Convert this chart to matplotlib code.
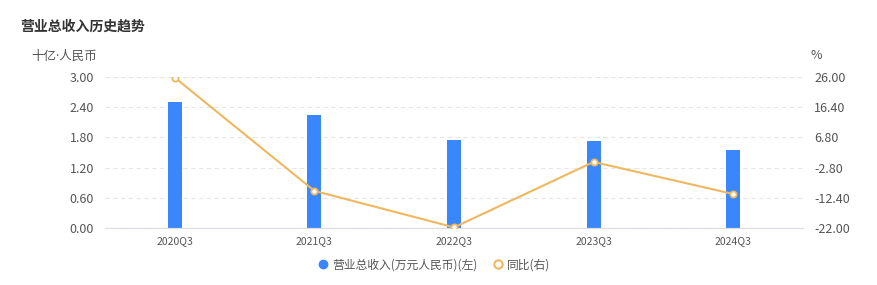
import matplotlib
matplotlib.use("Agg")
import matplotlib.pyplot as plt
from matplotlib.lines import Line2D

plt.rcParams['font.family'] = ['Noto Sans CJK SC', 'DejaVu Sans']

# data
quarters = ['2020Q3', '2021Q3', '2022Q3', '2023Q3', '2024Q3']
revenue = [2.50, 2.24, 1.75, 1.73, 1.55]      # 十亿人民币
yoy = [25.8, -10.2, -21.8, -1.0, -11.2]        # %
left_ticks = [0.00, 0.60, 1.20, 1.80, 2.40, 3.00]
right_ticks = [-22.00, -12.40, -2.80, 6.80, 16.40, 26.00]

bar_color = '#3a86fd'
line_color = '#efb75e'
text_color = '#555555'

fig = plt.figure(figsize=(8.78, 2.85), dpi=100)
ax = fig.add_axes([0.1196, 0.2, 0.795, 0.5298])
ax2 = ax.twinx()

x = list(range(len(quarters)))
ax.bar(x, revenue, width=0.1, color=bar_color, zorder=2)
ax.set_xlim(-0.5, len(quarters) - 0.5)
ax.set_ylim(left_ticks[0], left_ticks[-1])
ax.set_yticks(left_ticks)
ax.set_yticklabels([f'{v:.2f}' for v in left_ticks])
ax.set_xticks(x)
ax.set_xticklabels(quarters)
ax.grid(axis='y', linestyle=(0, (4, 3)), color='#e6e6e6', linewidth=0.8, zorder=0)

ax2.plot(x, yoy, color=line_color, linewidth=1.5, marker='o', markersize=4.5,
         markerfacecolor='white', markeredgecolor=line_color, markeredgewidth=1.3, zorder=3)
ax2.set_ylim(right_ticks[0], right_ticks[-1])
ax2.set_yticks(right_ticks)
ax2.set_yticklabels([f'{v:.2f}' for v in right_ticks])

for a in (ax, ax2):
    for side in ('top', 'left', 'right'):
        a.spines[side].set_visible(False)
    a.spines['bottom'].set_color('#dcdde6')
    a.tick_params(length=0, colors=text_color, labelsize=9)
ax.tick_params(axis='x', labelsize=7.5, pad=6)
ax.tick_params(axis='y', pad=8)
ax2.tick_params(axis='y', pad=8)

fig.text(20 / 878, 1 - 27 / 285, '营业总收入历史趋势', fontsize=10, fontweight='bold',
         color='#333333', va='center', ha='left')
fig.text(97 / 878, 1 - 56 / 285, '十亿·人民币', fontsize=9, color=text_color,
         va='center', ha='right', family=['Noto Sans', 'Noto Sans CJK SC'])
fig.text(811 / 878, 1 - 56 / 285, '%', fontsize=9, color=text_color, va='center', ha='left')

handles = [
    Line2D([], [], linestyle='none', marker='o', markersize=6, color=bar_color),
    Line2D([], [], linestyle='none', marker='o', markersize=6, markerfacecolor='white',
           markeredgecolor=line_color, markeredgewidth=1.5),
]
fig.legend(handles, ['营业总收入(万元人民币)(左)', '同比(右)'], loc='center',
           bbox_to_anchor=(434 / 878, 1 - 265 / 285), ncol=2, frameon=False,
           fontsize=8.5, handlelength=1.0, handletextpad=0.3, columnspacing=1.2,
           labelcolor=text_color)

fig.savefig('out.png', dpi=100)
